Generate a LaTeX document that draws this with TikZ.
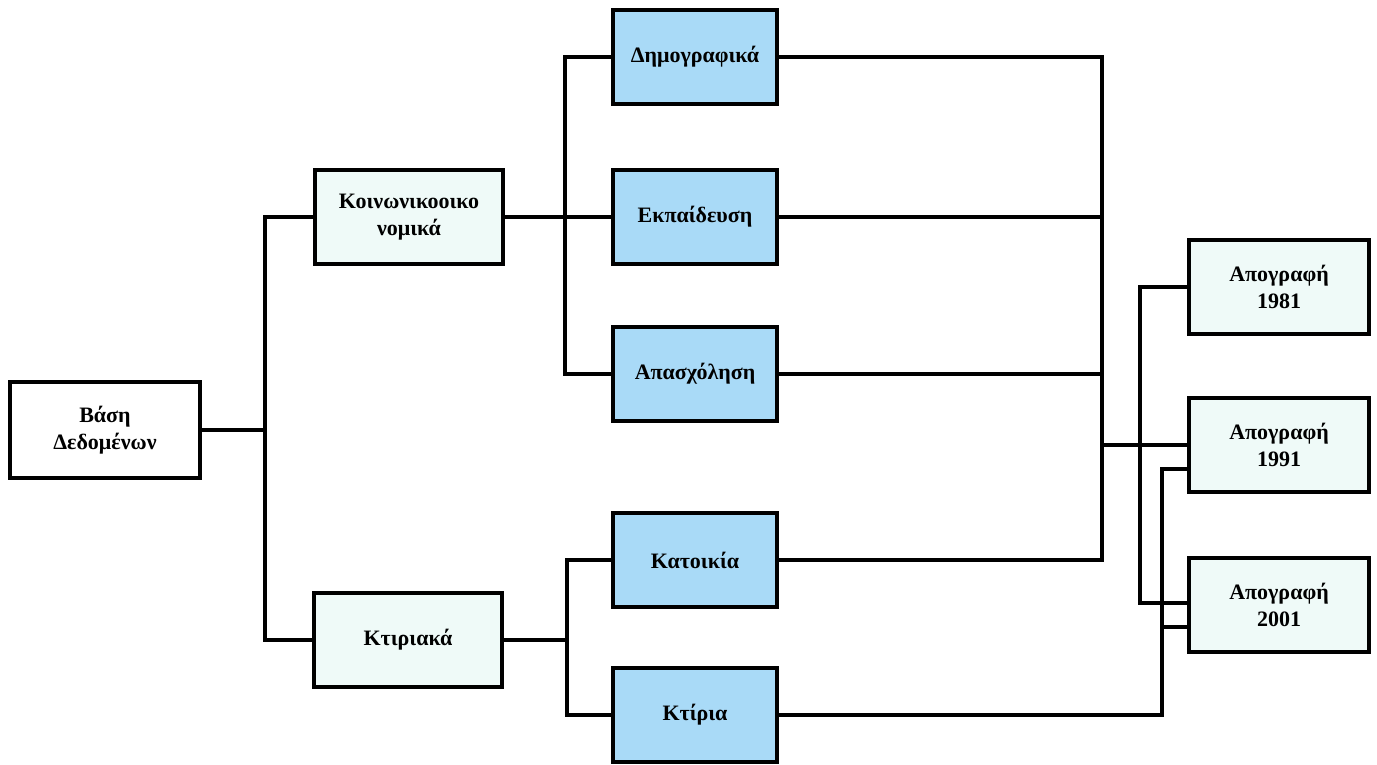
\documentclass[tikz,border=0pt]{standalone}
\usepackage{fontspec}
\setmainfont{Liberation Serif}
\usepackage{tikz}
\usetikzlibrary{positioning}
\definecolor{themeblue}{HTML}{A9DAF7}
\definecolor{paleaqua}{HTML}{EFFAF8}

\begin{document}
\begin{tikzpicture}[
    x=1pt, y=-1pt,
    font=\bfseries\fontsize{22}{27}\selectfont,
    block/.style={
		rectangle,
		draw=black,
		line width=4.5pt,
		text centered,
		align=center,
		minimum width=188pt,
		minimum height=94pt,
		fill=white
	},
	theme/.style={
		block,
		minimum width=164pt,
		fill=themeblue
	},
	census/.style={
		block,
		minimum width=180pt,
		fill=paleaqua
	},
	link/.style={
		line width=4pt
	}
  ]
  \useasboundingbox (0,0) rectangle (1377,764);
    % We start by placing the blocks

  \node [block, minimum width=190pt, minimum height=96pt] (base) at (105,430) {Βάση\\Δεδομένων};

  \node [block, fill=paleaqua] (socio) at (409,217) {Κοινωνικοοικο\\νομικά};
  \node [block, fill=paleaqua] (build) at (408,640) {Κτιριακά};

  \node [theme] (demo) at (695,57) {Δημογραφικά};
  \node [theme] (edu) at (695,217) {Εκπαίδευση};
  \node [theme] (empl) at (695,374) {Απασχόληση};
  \node [theme] (house) at (695,560) {Κατοικία};
  \node [theme] (bldg) at (695,715) {Κτίρια};

  \node [census] (c81) at (1279,287) {Απογραφή\\1981};
  \node [census] (c91) at (1279,445) {Απογραφή\\1991};
  \node [census] (c01) at (1279,605) {Απογραφή\\2001};

  % junctions
  \coordinate (j1) at (265,430);
  \coordinate (j2) at (565,217);
  \coordinate (j3) at (567,640);
  \coordinate (j4) at (1102,445);
  \coordinate (j5) at (1140,603);
  \coordinate (j6) at (1162,469);
  \coordinate (j7) at (1162,627);

 \draw [link] (base) -- (j1);
 \draw [link] (socio.west) -| (j1) |- (build.west);
 \draw [link] (socio) -- (edu);
 \draw [link] (demo.west) -| (j2) |- (empl.west);
 \draw [link] (build) -- (j3);
 \draw [link] (house.west) -| (j3) |- (bldg.west);

 \draw [link] (demo.east) -| (j4) |- (house.east);
 \draw [link] (edu.east) -- (edu.east -| j4);
 \draw [link] (empl.east) -- (empl.east -| j4);
 \draw [link] (j4) -- (c91);

 \draw [link] (c81.west) -| (j5) -- (j5 -| c01.west);
 \draw [link] (bldg.east) -| (j6) -- (j6 -| c91.west);
 \draw [link] (j7) -- (j7 -| c01.west);

\end{tikzpicture}
\end{document}
